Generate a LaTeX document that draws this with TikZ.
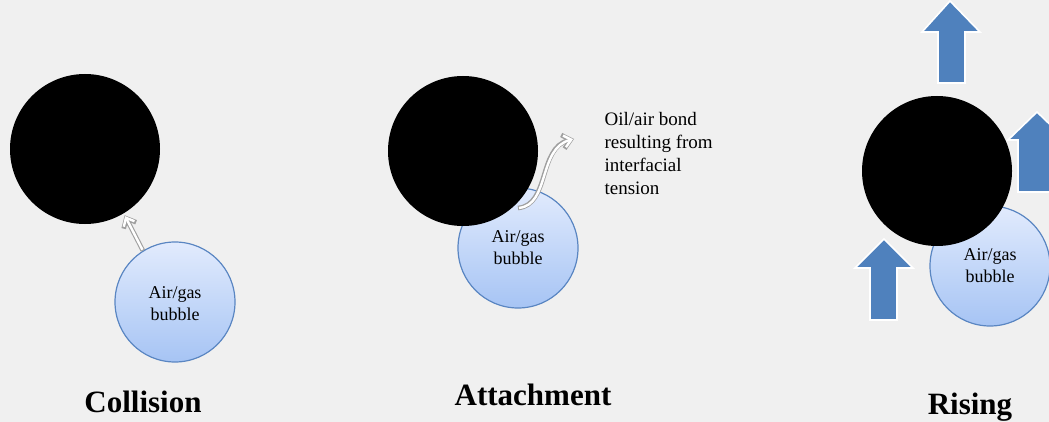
\documentclass[tikz,border=0pt]{standalone}
\usepackage{fontspec}
\setmainfont{Liberation Serif}
\usetikzlibrary{arrows.meta}
\definecolor{bgc}{HTML}{F0F0F0}
\definecolor{blk}{HTML}{4F81BD}
\definecolor{btop}{HTML}{E2EBFD}
\definecolor{bbot}{HTML}{A6C4F4}
\definecolor{bline}{HTML}{5A86C2}
\tikzset{
  particle/.style={circle, fill=black, minimum size=150, inner sep=0},
  bubble/.style={circle, draw=bline, line width=1.2, top color=btop, bottom color=bbot,
    minimum size=120, inner sep=0, align=center, font=\fontsize{18}{22}\selectfont},
  stage/.style={font=\fontsize{31}{34}\selectfont\bfseries, anchor=base},
  note/.style={align=left, anchor=north west, font=\fontsize{19}{23}\selectfont},
  bigarrow/.style={fill=blk, draw=white, line width=1.6, line join=miter},
  hollowout/.style={draw=gray!75, line width=4.6, -{Straight Barb[length=8,width=14,line width=4.6]}},
  hollowin/.style={draw=white, line width=2.4, -{Straight Barb[length=7,width=12,line width=2.4]}},
}
\begin{document}
\begin{tikzpicture}[x=1pt,y=-1pt]
\fill[bgc] (0,0) rectangle (1049,422);
\useasboundingbox (0,0) rectangle (1049,422);
% Collision
\node[particle] (c1) at (85,149) {};
\node[bubble] (b1) at (175,302) {\\[-6pt]Air/gas\\bubble};
\draw[hollowout, shorten >=2] (b1.122) -- (c1.-59);
\draw[hollowin, shorten >=3, shorten <=1] (b1.122) -- (c1.-59);
\node[stage] (l1) at (143,412) {Collision};
% Attachment
\node[bubble] (b2) at (518,248) {Air/gas\\bubble};
\node[particle] (c2) at (463,151) {};
\coordinate (a2s) at (518,208);
\coordinate (a2e) at (574,139);
\draw[hollowout] (a2s) .. controls (550,205) and (538,148) .. (a2e);
\draw[hollowin, shorten <=1, shorten >=1] (a2s) .. controls (550,205) and (538,148) .. (a2e);
\node[note] (n2) at (601,109) {Oil/air bond\\resulting from\\interfacial\\tension};
\node[stage] (l2) at (533,405) {Attachment};
% Rising
\node[bubble] (b3) at (990,266) {Air/gas\\bubble};
\node[particle] (c3) at (937,171) {};
\begin{scope}
\clip (0,0) rectangle (1049,422);
\draw[bigarrow] (950,1) -- (980,32) -- (965,32) -- (965,83) -- (938,83) -- (938,32) -- (922,32) -- cycle;
\draw[bigarrow] (1037,112) -- (1066,140) -- (1056,140) -- (1056,192) -- (1018,192) -- (1018,140) -- (1008,140) -- cycle;
\draw[bigarrow] (884,239) -- (913,268) -- (897,268) -- (897,320) -- (870,320) -- (870,268) -- (855,268) -- cycle;
\end{scope}
\node[stage] (l3) at (970,414) {Rising};
\end{tikzpicture}
\end{document}
